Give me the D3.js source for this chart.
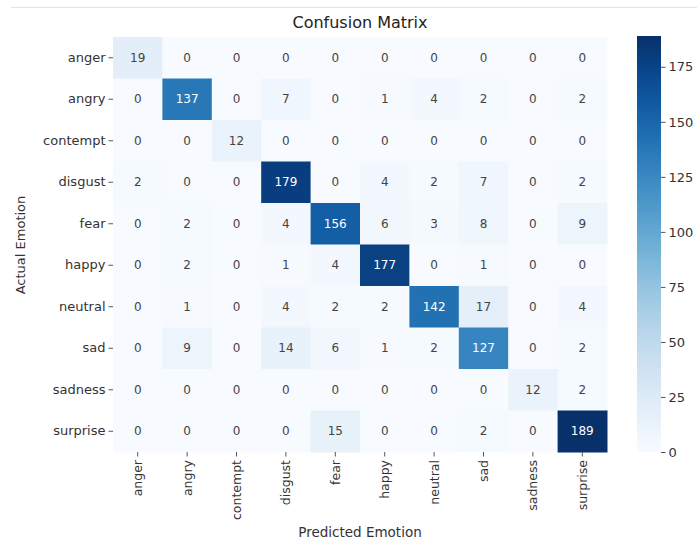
<!DOCTYPE html>
<html>
<head>
<meta charset="utf-8">
<script src="https://cdn.jsdelivr.net/npm/d3@7"></script>
<style>
  html, body { margin: 0; padding: 0; background: #fff; }
  svg { display: block; font-family: "DejaVu Sans", sans-serif; }
</style>
</head>
<body>
<svg id="chart" width="697" height="541"></svg>
<script>
// Class labels (rows = actual, columns = predicted)
const emotions = ["anger", "angry", "contempt", "disgust", "fear", "happy", "neutral", "sad", "sadness", "surprise"];

// Confusion counts, one array per actual class
const anger    = [19, 0, 0, 0, 0, 0, 0, 0, 0, 0];
const angry    = [0, 137, 0, 7, 0, 1, 4, 2, 0, 2];
const contempt = [0, 0, 12, 0, 0, 0, 0, 0, 0, 0];
const disgust  = [2, 0, 0, 179, 0, 4, 2, 7, 0, 2];
const fear     = [0, 2, 0, 4, 156, 6, 3, 8, 0, 9];
const happy    = [0, 2, 0, 1, 4, 177, 0, 1, 0, 0];
const neutral  = [0, 1, 0, 4, 2, 2, 142, 17, 0, 4];
const sad      = [0, 9, 0, 14, 6, 1, 2, 127, 0, 2];
const sadness  = [0, 0, 0, 0, 0, 0, 0, 0, 12, 2];
const surprise = [0, 0, 0, 0, 15, 0, 0, 2, 0, 189];
const counts = [anger, angry, contempt, disgust, fear, happy, neutral, sad, sadness, surprise];

// Colour bar ticks
const colorbarTicks = [0, 25, 50, 75, 100, 125, 150, 175];

const svg = d3.select("#chart");

// Faint rule across the top
svg.append("line")
  .attr("x1", 11).attr("x2", 697).attr("y1", 7.5).attr("y2", 7.5)
  .attr("stroke", "#e4e4e4").attr("stroke-width", 1);

const x = d3.scaleBand().domain(emotions).range([113, 607]);
const y = d3.scaleBand().domain(emotions).range([37, 452]);

const vmax = d3.max(counts.flat());
const color = d3.scaleSequential(d3.interpolateBlues).domain([0, vmax]);

const cells = [];
counts.forEach((row, i) => row.forEach((v, j) => cells.push({ actual: emotions[i], predicted: emotions[j], value: v })));

// Relative luminance, used to pick dark or light annotation text
function luminance(c) {
  const rgb = d3.rgb(c);
  const f = ch => { ch /= 255; return ch <= 0.03928 ? ch / 12.92 : Math.pow((ch + 0.055) / 1.055, 2.4); };
  return 0.2126 * f(rgb.r) + 0.7152 * f(rgb.g) + 0.0722 * f(rgb.b);
}

const g = svg.append("g");
g.selectAll("rect.cell").data(cells).join("rect")
  .attr("class", "cell")
  .attr("x", d => x(d.predicted))
  .attr("y", d => y(d.actual))
  .attr("width", x.bandwidth() + 0.5)
  .attr("height", y.bandwidth() + 0.5)
  .attr("fill", d => color(d.value));

g.selectAll("text.annot").data(cells).join("text")
  .attr("class", "annot")
  .attr("x", d => x(d.predicted) + x.bandwidth() / 2)
  .attr("y", d => y(d.actual) + y.bandwidth() / 2)
  .attr("text-anchor", "middle")
  .attr("dominant-baseline", "central")
  .attr("font-size", 12)
  .attr("fill", d => luminance(color(d.value)) > 0.408 ? "#444" : "#fff")
  .text(d => d.value);

// Row axis (actual)
const yAxis = svg.append("g")
  .attr("transform", "translate(113,0)")
  .call(d3.axisLeft(y).tickSize(4.5).tickPadding(3));
yAxis.select(".domain").remove();
yAxis.selectAll(".tick line").attr("stroke", "#555");
yAxis.selectAll(".tick text").attr("font-size", 13).attr("fill", "#333")
  .attr("font-family", "DejaVu Sans, sans-serif");

// Column axis (predicted)
const xAxis = svg.append("g")
  .attr("transform", "translate(0,452)")
  .call(d3.axisBottom(x).tickSize(4.5).tickPadding(3));
xAxis.select(".domain").remove();
xAxis.selectAll(".tick line").attr("stroke", "#555");
xAxis.selectAll(".tick text")
  .attr("font-size", 12.5).attr("fill", "#333")
  .attr("font-family", "DejaVu Sans, sans-serif")
  .attr("text-anchor", "end")
  .attr("dy", null)
  .attr("dominant-baseline", "central")
  .attr("transform", "rotate(-90)")
  .attr("x", -8).attr("y", 0);

// Colour bar
const defs = svg.append("defs");
const grad = defs.append("linearGradient").attr("id", "cbar")
  .attr("x1", 0).attr("y1", 1).attr("x2", 0).attr("y2", 0);
d3.range(0, 1.0001, 0.05).forEach(t => {
  grad.append("stop").attr("offset", t).attr("stop-color", color(t * vmax));
});
const cbTop = 36, cbBottom = 452, cbLeft = 637, cbWidth = 24;
svg.append("rect")
  .attr("x", cbLeft).attr("y", cbTop)
  .attr("width", cbWidth).attr("height", cbBottom - cbTop)
  .attr("fill", "url(#cbar)");
const cbScale = d3.scaleLinear().domain([0, vmax]).range([cbBottom, cbTop]);
const cbAxis = svg.append("g")
  .attr("transform", `translate(${cbLeft + cbWidth},0)`)
  .call(d3.axisRight(cbScale).tickValues(colorbarTicks).tickSize(4.5).tickPadding(3));
cbAxis.select(".domain").remove();
cbAxis.selectAll(".tick line").attr("stroke", "#555");
cbAxis.selectAll(".tick text").attr("font-size", 13).attr("fill", "#333")
  .attr("font-family", "DejaVu Sans, sans-serif");

// Titles
svg.append("text")
  .attr("x", 360).attr("y", 22)
  .attr("text-anchor", "middle").attr("dominant-baseline", "central")
  .attr("font-size", 16).attr("fill", "#222")
  .text("Confusion Matrix");

svg.append("text")
  .attr("x", 360).attr("y", 532)
  .attr("text-anchor", "middle").attr("dominant-baseline", "central")
  .attr("font-size", 13.5).attr("fill", "#333")
  .text("Predicted Emotion");

svg.append("text")
  .attr("transform", "translate(20,245) rotate(-90)")
  .attr("text-anchor", "middle").attr("dominant-baseline", "central")
  .attr("font-size", 13).attr("fill", "#333")
  .text("Actual Emotion");
</script>
</body>
</html>
